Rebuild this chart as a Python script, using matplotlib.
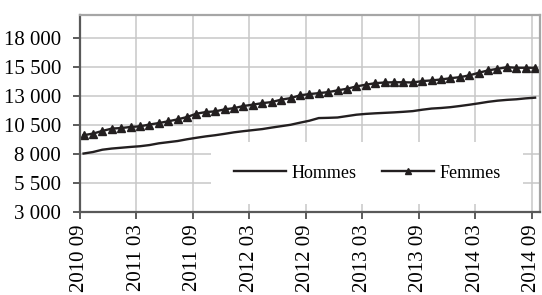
import matplotlib
matplotlib.use('Agg')
import matplotlib.pyplot as plt

# monthly values, 2010 09 -> 2014 09
hommes = [8020, 8150, 8350, 8450, 8520, 8590, 8650, 8750, 8900, 9000,
          9100, 9250, 9380, 9500, 9600, 9720, 9850, 9950, 10040, 10130,
          10260, 10380, 10500, 10680, 10850, 11080, 11100, 11130, 11250, 11370,
          11440, 11490, 11530, 11570, 11620, 11680, 11800, 11900, 11950, 12020,
          12120, 12230, 12350, 12480, 12580, 12650, 12700, 12780, 12840]
femmes = [9600, 9740, 9970, 10170, 10220, 10310, 10370, 10520, 10650, 10800,
          10970, 11170, 11460, 11600, 11660, 11830, 11940, 12120, 12240, 12370,
          12460, 12670, 12800, 13040, 13150, 13230, 13320, 13470, 13610, 13810,
          13960, 14090, 14150, 14170, 14170, 14150, 14270, 14330, 14410, 14520,
          14610, 14760, 14990, 15190, 15330, 15470, 15420, 15420, 15420]
x_labels = ['2010 09', '2011 03', '2011 09', '2012 03', '2012 09',
            '2013 03', '2013 09', '2014 03', '2014 09']
y_ticks = [3000, 5500, 8000, 10500, 13000, 15500, 18000]
y_labels = ['3 000', '5 500', '8 000', '10 500', '13 000', '15 500', '18 000']

plt.rcParams['font.family'] = 'Liberation Serif'
plt.rcParams['font.size'] = 15

fig = plt.figure(figsize=(5.42, 2.95), dpi=100)
ax = fig.add_axes([80 / 542, 1 - 211.7 / 295, 459.5 / 542, 197 / 295])

# points sit a bit after the month tick (date axis)
months = [i + 0.38 for i in range(len(hommes))]
line_col = '#231f20'
ax.plot(months, hommes, color=line_col, lw=1.7, label='Hommes')
ax.plot(months, femmes, color=line_col, lw=1.7, marker='^', markersize=5.8,
        label='Femmes')

ax.set_xlim(0, 48.85)
ax.set_ylim(3000, 20000)
ax.set_xticks(range(0, 49, 6))
ax.set_xticklabels(x_labels, rotation=90)
ax.set_yticks(y_ticks)
ax.set_yticklabels(y_labels)

ax.grid(True, color='#c8c8c8', lw=1.1)
ax.set_axisbelow(True)
ax.tick_params(direction='out', length=5, width=1.2, color='#404040')
ax.tick_params(axis='y', pad=8.5)
ax.tick_params(axis='x', pad=4)
for s in ['left', 'bottom']:
    ax.spines[s].set_color('#595959')
    ax.spines[s].set_linewidth(1.6)
for s in ['top', 'right']:
    ax.spines[s].set_color('#a6a6a6')
    ax.spines[s].set_linewidth(1.6)

leg = ax.legend(ncol=2, loc='center', bbox_to_anchor=(0.625, 0.196),
                frameon=True, facecolor='white', edgecolor='none',
                framealpha=1, fancybox=False, fontsize=13, handlelength=2.9,
                handletextpad=0.28, columnspacing=1.4, borderpad=1.25,
                markerscale=0.8)

fig.savefig('out.png', dpi=100)
